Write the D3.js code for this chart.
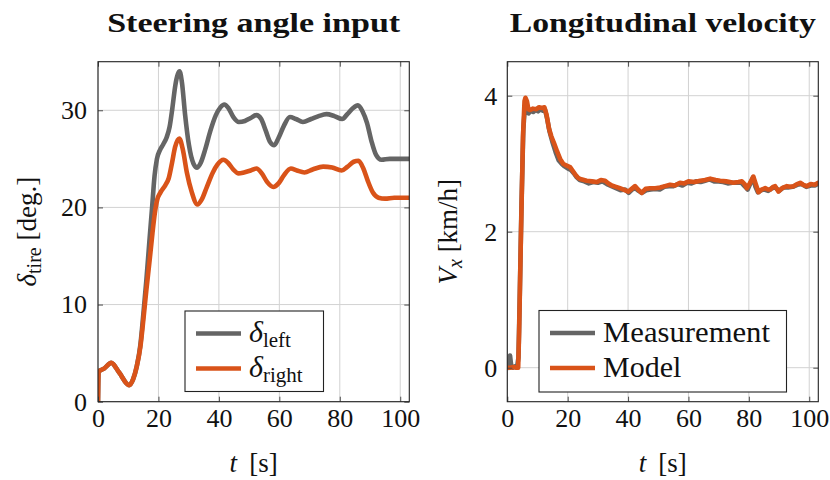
<!DOCTYPE html>
<html>
<head>
<meta charset="utf-8">
<script src="https://cdn.jsdelivr.net/npm/d3@7"></script>
<style>
  body { margin: 0; background: #fff; }
  svg text { font-family: 'Liberation Serif', 'DejaVu Serif', serif; fill: #111; }
</style>
</head>
<body>
<div id="chart"></div>
<script>
/* global d3 */

// ---- data ----
const timeTicks = [0, 20, 40, 60, 80, 100];
const steerTicks = [0, 10, 20, 30];
const speedTicks = [0, 2, 4];

// [t (s), delta (deg)]
const deltaLeft = [
  [0, 0], [0.2, 3.1], [2, 3.4], [4.4, 4.0], [7, 3.0], [10.3, 1.7], [11.6, 2.3], [12.8, 3.6],
  [14, 5.8], [15, 9.0], [16, 12.5], [17, 16.5], [17.9, 20.0], [18.7, 23.2], [19.5, 25.0],
  [20.5, 25.9], [21.6, 26.5], [22.7, 27.2], [23.7, 28.3], [24.6, 30.2], [25.6, 32.6],
  [26.4, 33.7], [27.0, 34.0], [27.8, 32.8], [28.8, 29.6], [30.1, 26.4], [31.6, 24.5], [32.8, 24.1],
  [34, 24.6], [35.5, 26.0], [37.2, 27.9], [39, 29.5], [40.5, 30.3], [41.8, 30.6], [43.2, 30.2],
  [44.8, 29.3], [46.6, 28.8], [48.6, 28.9], [50.5, 29.2], [52.4, 29.5], [54, 29.1], [55.5, 27.9],
  [57, 26.7], [58.3, 26.4], [59.8, 27.2], [61.5, 28.4], [63.5, 29.3], [65.5, 29.1], [67.8, 28.8],
  [70.5, 29.1], [73, 29.4], [75.6, 29.6], [78.2, 29.4], [80.8, 29.1], [82.5, 29.6], [84.3, 30.2],
  [86, 30.5], [87.5, 29.9], [89, 28.7], [90.5, 26.8], [92, 25.4], [93.8, 24.9], [96.5, 25.0],
  [100, 25.0], [103, 25.0]
];

const deltaRight = [
  [0, 0], [0.2, 3.1], [2, 3.4], [4.4, 4.0], [7, 3.0], [10.3, 1.7], [11.6, 2.3], [12.8, 3.6],
  [14, 5.6], [15, 8.4], [16, 11.5], [17.1, 14.6], [18, 17.3], [18.8, 19.4], [19.6, 20.8],
  [20.6, 21.5], [22.3, 22.3], [23.4, 23.0], [24.5, 24.6], [25.5, 26.2], [26.9, 27.1],
  [28.1, 25.9], [29.4, 23.6], [31, 21.6], [32.9, 20.3], [34.3, 20.8], [36, 22.1], [38, 23.6],
  [39.5, 24.4], [41.5, 24.9], [43, 24.6], [44.8, 23.9], [46.5, 23.5], [48.3, 23.6], [50.5, 23.8],
  [52.4, 24.0], [54.2, 23.5], [56, 22.6], [58, 22.1], [59.8, 22.5], [61.5, 23.3], [63.8, 24.0],
  [65.8, 23.8], [68.3, 23.6], [71, 23.9], [74.5, 24.2], [77.5, 24.1], [80.6, 23.8], [82.6, 24.2],
  [84.6, 24.7], [86.2, 24.8], [87.8, 24.0], [89.3, 22.7], [91, 21.5], [92.8, 21.0], [95, 20.9],
  [98, 21.0], [103, 21.0]
];

// [t (s), Vx (km/h)]
const measurement = [
  [0, 0.02], [0.5, 0.0], [0.9, 0.18], [1.3, 0.03], [1.8, 0.0], [2.5, 0.02], [3.2, 0.0], [3.7, 0.15],
  [4.1, 1.0], [4.7, 2.4], [5.3, 3.5], [5.8, 3.82], [6.3, 3.76], [7.0, 3.74], [7.8, 3.78], [8.6, 3.76],
  [9.4, 3.79], [10.2, 3.77], [11.0, 3.80], [11.8, 3.78], [12.5, 3.79], [13.2, 3.66], [14.0, 3.47],
  [15.0, 3.31], [16.0, 3.17], [17.0, 3.05], [18.0, 3.00], [19.0, 2.96], [20.0, 2.93], [21.0, 2.91],
  [22.0, 2.86], [23.0, 2.80], [24.0, 2.76], [25.5, 2.74], [27.0, 2.71], [28.5, 2.73], [30.0, 2.72],
  [31.5, 2.74], [33.0, 2.70], [34.5, 2.67], [36.0, 2.64], [37.5, 2.61], [39.0, 2.62], [40.2, 2.57],
  [41.3, 2.62], [42.4, 2.64], [43.5, 2.60], [44.6, 2.57], [46, 2.61], [47.5, 2.62], [49, 2.63],
  [50.5, 2.62], [52, 2.66], [53.5, 2.67], [55, 2.67], [56.5, 2.70], [58, 2.68], [59.5, 2.72],
  [61, 2.71], [62.5, 2.74], [64, 2.73], [65.5, 2.75], [67, 2.77], [68.5, 2.74], [70, 2.74],
  [71.5, 2.73], [73, 2.71], [74.5, 2.72], [76, 2.72], [77.5, 2.72], [78.8, 2.66], [79.6, 2.62],
  [80.6, 2.72], [81.4, 2.80], [82.2, 2.66], [83.0, 2.58], [84.0, 2.61], [85.2, 2.62], [86.4, 2.60],
  [87.6, 2.64], [88.8, 2.65], [90, 2.60], [91.5, 2.65], [93, 2.65], [94.5, 2.66], [96, 2.69],
  [97.5, 2.70], [99, 2.66], [100.5, 2.68], [102, 2.68], [103, 2.71]
];

const model = [
  [0, 0.0], [1, 0.0], [2, 0.01], [3, 0.0], [3.6, 0.0], [3.9, 0.5], [4.5, 1.9], [5.2, 3.4],
  [5.7, 3.92], [6.0, 3.97], [6.5, 3.92], [7.0, 3.80], [7.6, 3.79], [8.5, 3.81], [9.5, 3.80],
  [10.5, 3.83], [11.5, 3.82], [12.3, 3.83], [13.0, 3.72], [13.8, 3.52], [14.6, 3.40], [15.5, 3.30],
  [16.5, 3.18], [17.5, 3.07], [18.5, 3.00], [19.7, 2.97], [20.8, 2.95], [21.6, 2.90], [22.5, 2.84],
  [23.5, 2.79], [24.5, 2.77], [26.3, 2.75], [28, 2.74], [29.6, 2.73], [31, 2.76], [32.4, 2.75],
  [33.5, 2.71], [34.6, 2.68], [36, 2.66], [37.3, 2.64], [38.5, 2.62], [40.1, 2.59], [41.2, 2.63],
  [42.3, 2.67], [43.3, 2.62], [44.5, 2.57], [45.8, 2.63], [47.3, 2.64], [49, 2.64], [50.6, 2.65],
  [52.2, 2.67], [53.9, 2.69], [55.5, 2.68], [57.2, 2.72], [58.6, 2.71], [60, 2.74], [62, 2.73],
  [63.9, 2.75], [65.5, 2.76], [67.2, 2.78], [69, 2.76], [70.5, 2.75], [72.5, 2.74], [74.9, 2.72],
  [76.5, 2.73], [77.7, 2.74], [78.6, 2.70], [79.3, 2.64], [80.2, 2.70], [81.5, 2.81], [82.3, 2.70],
  [83.2, 2.58], [84.2, 2.62], [85.4, 2.64], [86.3, 2.62], [87.1, 2.62], [88.0, 2.66], [88.7, 2.67],
  [89.8, 2.59], [91, 2.64], [92.6, 2.67], [93.8, 2.66], [94.8, 2.67], [96, 2.70], [97, 2.72],
  [98, 2.69], [99.2, 2.67], [100.5, 2.70], [101.8, 2.69], [103, 2.72]
];

const GRAY = '#656565';
const ORANGE = '#D95319';
const SERIF = "'Liberation Serif', 'DejaVu Serif', serif";

const width = 830;
const height = 480;

const $svg = d3.select('#chart')
  .append('svg')
  .attr('width', width)
  .attr('height', height)
  .attr('font-family', SERIF);

function drawPanel(cfg) {
  const x = d3.scaleLinear().domain([0, 103]).range([cfg.left, cfg.right]);
  const y = d3.scaleLinear().domain(cfg.yDomain).range([cfg.bottom, cfg.top]);
  const w = cfg.right - cfg.left;
  const h = cfg.bottom - cfg.top;

  const $g = $svg.append('g').attr('class', cfg.id);

  // grid
  $g.append('g')
    .attr('class', 'grid-x')
    .selectAll('line')
    .data(timeTicks)
    .enter()
    .append('line')
    .attr('x1', d => x(d)).attr('x2', d => x(d))
    .attr('y1', cfg.top).attr('y2', cfg.bottom)
    .attr('stroke', '#d2d2d2').attr('stroke-width', 1);

  $g.append('g')
    .attr('class', 'grid-y')
    .selectAll('line')
    .data(cfg.yTicks)
    .enter()
    .append('line')
    .attr('x1', cfg.left).attr('x2', cfg.right)
    .attr('y1', d => y(d)).attr('y2', d => y(d))
    .attr('stroke', '#d2d2d2').attr('stroke-width', 1);

  // curves
  const clipId = 'clip-' + cfg.id;
  $g.append('clipPath').attr('id', clipId)
    .append('rect')
    .attr('x', cfg.left).attr('y', cfg.top)
    .attr('width', w).attr('height', h);

  const line = d3.line()
    .x(d => x(d[0]))
    .y(d => y(d[1]))
    .curve(cfg.curve);

  const $lines = $g.append('g').attr('clip-path', `url(#${clipId})`);
  cfg.series.forEach(s => {
    $lines.append('path')
      .datum(s.data)
      .attr('d', line)
      .attr('fill', 'none')
      .attr('stroke', s.color)
      .attr('stroke-width', 4.6)
      .attr('stroke-linejoin', 'round')
      .attr('stroke-linecap', 'round');
  });

  // axes with inward ticks on all four sides
  const fmt = d3.format('d');
  const bottomAxis = d3.axisBottom(x).tickValues(timeTicks).tickFormat(fmt)
    .tickSizeInner(-5).tickSizeOuter(0).tickPadding(7);
  const topAxis = d3.axisTop(x).tickValues(timeTicks)
    .tickSizeInner(-5).tickSizeOuter(0).tickFormat('');
  const leftAxis = d3.axisLeft(y).tickValues(cfg.yTicks).tickFormat(fmt)
    .tickSizeInner(-5).tickSizeOuter(0).tickPadding(cfg.yPad);
  const rightAxis = d3.axisRight(y).tickValues(cfg.yTicks)
    .tickSizeInner(-5).tickSizeOuter(0).tickFormat('');

  const axes = [
    $g.append('g').attr('transform', `translate(0,${cfg.bottom})`).call(bottomAxis),
    $g.append('g').attr('transform', `translate(0,${cfg.top})`).call(topAxis),
    $g.append('g').attr('transform', `translate(${cfg.left},0)`).call(leftAxis),
    $g.append('g').attr('transform', `translate(${cfg.right},0)`).call(rightAxis)
  ];
  axes.forEach($a => {
    $a.attr('font-family', SERIF).attr('font-size', 26);
    $a.select('.domain').remove();
    $a.selectAll('.tick line').attr('stroke', '#4d4d4d');
    $a.selectAll('.tick text').attr('fill', '#111');
  });

  // frame
  $g.append('rect')
    .attr('x', cfg.left).attr('y', cfg.top)
    .attr('width', w).attr('height', h)
    .attr('fill', 'none')
    .attr('stroke', '#222')
    .attr('stroke-width', 1.1);

  // title
  $g.append('text')
    .attr('x', (cfg.left + cfg.right) / 2)
    .attr('y', 31.5)
    .attr('text-anchor', 'middle')
    .attr('font-size', 28)
    .attr('font-weight', 'bold')
    .attr('textLength', cfg.titleWidth)
    .attr('lengthAdjust', 'spacingAndGlyphs')
    .text(cfg.title);

  // x label: t [s]
  const $xl = $g.append('text')
    .attr('x', (cfg.left + cfg.right) / 2)
    .attr('y', 472)
    .attr('text-anchor', 'middle')
    .attr('font-size', 27);
  $xl.append('tspan').attr('font-style', 'italic').text('t');
  $xl.append('tspan').text('\u2009 [s]');

  // y label
  const $yl = $g.append('text')
    .attr('transform', `translate(${cfg.yLabelX},${(cfg.top + cfg.bottom) / 2}) rotate(-90)`)
    .attr('text-anchor', 'middle')
    .attr('font-size', 27);
  cfg.yLabel($yl);

  // legend
  const lg = cfg.legend;
  const $leg = $g.append('g').attr('class', 'legend');
  $leg.append('rect')
    .attr('x', lg.x).attr('y', lg.y)
    .attr('width', lg.w).attr('height', lg.h)
    .attr('fill', '#fff')
    .attr('stroke', '#222')
    .attr('stroke-width', 1.1);
  cfg.series.forEach((s, i) => {
    const ly = lg.y + 22.5 + i * 35;
    $leg.append('line')
      .attr('x1', lg.x + 11).attr('x2', lg.x + 56)
      .attr('y1', ly).attr('y2', ly)
      .attr('stroke', s.color)
      .attr('stroke-width', 4.6);
    const $t = $leg.append('text')
      .attr('x', lg.x + 64)
      .attr('y', ly + 8.5)
      .attr('font-size', 30);
    s.label($t);
  });
}

function subLabel(main, sub) {
  return function($t) {
    $t.append('tspan').attr('font-style', 'italic').text(main);
    $t.append('tspan').attr('font-size', 21).attr('dy', 5).text(sub);
  };
}

drawPanel({
  id: 'steer',
  left: 98, right: 409.3, top: 61.7, bottom: 401.7,
  yDomain: [0, 35],
  yTicks: steerTicks,
  yPad: 11,
  curve: d3.curveMonotoneX,
  title: 'Steering angle input',
  titleWidth: 293,
  yLabelX: 36,
  yLabel: $t => {
    $t.append('tspan').attr('font-style', 'italic').text('\u03b4');
    $t.append('tspan').attr('font-size', 20).attr('dy', 5).text('tire');
    $t.append('tspan').attr('dy', -5).text(' [deg.]');
  },
  series: [
    { data: deltaLeft, color: GRAY, label: subLabel('\u03b4', 'left') },
    { data: deltaRight, color: ORANGE, label: subLabel('\u03b4', 'right') }
  ],
  legend: { x: 185, y: 311, w: 138.5, h: 80.5 }
});

drawPanel({
  id: 'speed',
  left: 507.3, right: 818.3, top: 61.7, bottom: 401.7,
  yDomain: [-0.5, 4.5],
  yTicks: speedTicks,
  yPad: 10,
  curve: d3.curveLinear,
  title: 'Longitudinal velocity',
  titleWidth: 306,
  yLabelX: 457,
  yLabel: $t => {
    $t.append('tspan').attr('font-style', 'italic').text('V');
    $t.append('tspan').attr('font-style', 'italic').attr('font-size', 20).attr('dy', 5).text('x');
    $t.append('tspan').attr('dy', -5).text(' [km/h]');
  },
  series: [
    { data: measurement, color: GRAY, label: $t => $t.attr('textLength', 167).attr('lengthAdjust', 'spacingAndGlyphs').text('Measurement') },
    { data: model, color: ORANGE, label: $t => $t.text('Model') }
  ],
  legend: { x: 539, y: 310.5, w: 247.5, h: 81.5 }
});
</script>
</body>
</html>
